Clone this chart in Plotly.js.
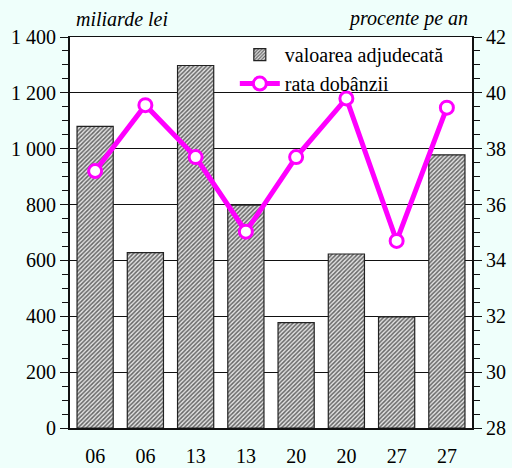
<!DOCTYPE html>
<html>
<head>
<meta charset="utf-8">
<script src="https://cdn.plot.ly/plotly-3.0.1.min.js"></script>
<style>html,body{margin:0;padding:0;background:#effffb;}#chart{width:512px;height:468px;}</style>
</head>
<body>
<div id="chart"></div>
<script>
const categories = ["06", "06", "13", "13", "20", "20", "27", "27"];
const valoareaAdjudecata = [1080, 628, 1298, 798, 377, 623, 398, 978];
const rataDobanzii = [37.2, 39.56, 37.7, 35.03, 37.7, 39.8, 34.7, 39.47];
const positions = categories.map((c, i) => i + 1);

const serif = "Liberation Serif";

const traces = [
  {
    type: "bar",
    name: "valoarea adjudecată",
    x: positions,
    y: valoareaAdjudecata,
    width: 0.72,
    marker: {
      color: "#cccccc",
      line: {color: "#222", width: 1.2},
      pattern: {shape: "/", fgcolor: "#666", bgcolor: "#e4e4e4", size: 3, solidity: 0.5}
    },
    yaxis: "y"
  },
  {
    type: "scatter",
    mode: "lines+markers",
    name: "rata dobânzii",
    x: positions,
    y: rataDobanzii,
    line: {color: "#ff00ff", width: 5},
    marker: {symbol: "circle", size: 13, color: "#ffffff", line: {color: "#ff00ff", width: 3}},
    yaxis: "y2"
  }
];

const layout = {
  width: 512,
  height: 468,
  margin: {l: 70, r: 40, t: 37, b: 40},
  paper_bgcolor: "#effffb",
  plot_bgcolor: "#ffffff",
  separators: ", ",
  font: {family: serif, size: 20, color: "#000"},
  showlegend: true,
  legend: {
    x: 0.41, y: 1.005, xanchor: "left", yanchor: "top",
    bgcolor: "rgba(255,255,255,0)",
    font: {family: serif, size: 20, color: "#000"},
    itemwidth: 40,
    tracegroupgap: 0
  },
  bargap: 0.28,
  xaxis: {
    range: [0.5, 8.5],
    tickvals: positions,
    ticktext: categories,
    ticks: "",
    ticklabelstandoff: 9,
    showgrid: false,
    zeroline: false,
    showline: true,
    mirror: true,
    linecolor: "#111",
    linewidth: 1.5,
    tickfont: {family: serif, size: 20, color: "#000"},
    fixedrange: true
  },
  yaxis: {
    range: [0, 1400],
    dtick: 200,
    separatethousands: true,
    ticks: "outside",
    ticklen: 8,
    tickwidth: 1,
    tickcolor: "#111",
    minor: {dtick: 50, ticks: "outside", ticklen: 6, tickcolor: "#111", showgrid: false},
    showgrid: true,
    gridcolor: "#111",
    gridwidth: 1,
    zeroline: false,
    showline: true,
    linecolor: "#111",
    linewidth: 2,
    tickfont: {family: serif, size: 20, color: "#000"}
  },
  yaxis2: {
    range: [28, 42],
    dtick: 2,
    overlaying: "y",
    side: "right",
    ticks: "outside",
    ticklen: 8,
    tickcolor: "#111",
    minor: {dtick: 0.5, ticks: "outside", ticklen: 6, tickcolor: "#111", showgrid: false},
    showgrid: false,
    zeroline: false,
    showline: true,
    linecolor: "#111",
    linewidth: 2,
    tickfont: {family: serif, size: 20, color: "#000"}
  },
  annotations: [
    {text: "miliarde lei", xref: "paper", yref: "paper", x: 0.01, y: 1.012, xanchor: "left", yanchor: "bottom",
     showarrow: false, font: {family: serif, size: 20, color: "#000", style: "italic"}},
    {text: "procente pe an", xref: "paper", yref: "paper", x: 0.995, y: 1.012, xanchor: "right", yanchor: "bottom",
     showarrow: false, font: {family: serif, size: 20, color: "#000", style: "italic"}}
  ]
};

Plotly.newPlot("chart", traces, layout, {displayModeBar: false, staticPlot: true});
</script>
</body>
</html>
